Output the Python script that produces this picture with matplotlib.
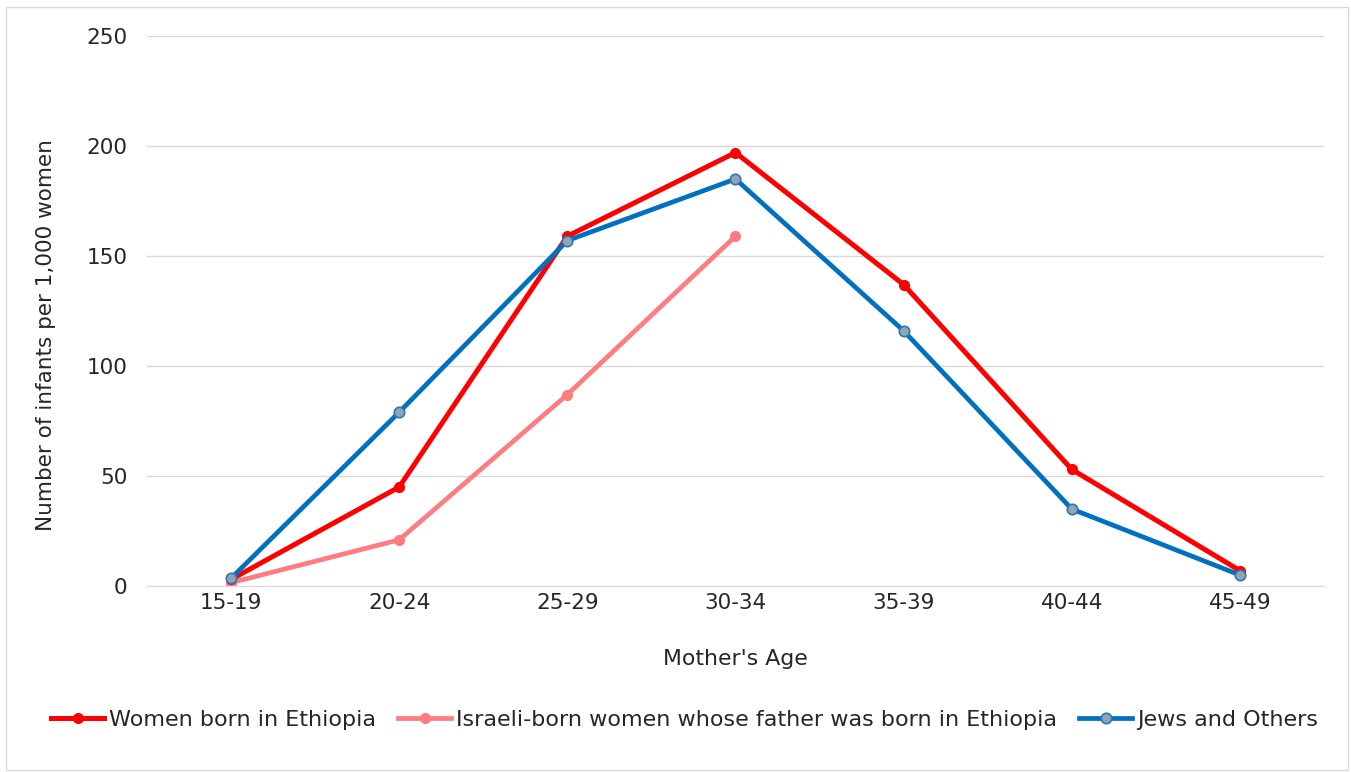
import matplotlib.pyplot as plt
from matplotlib.patches import Rectangle
import numpy as np

ages = ["15-19", "20-24", "25-29", "30-34", "35-39", "40-44", "45-49"]
born_ethiopia = [3, 45, 159, 197, 137, 53, 7]
israeli_born = [1.5, 21, 87, 159]
jews_others = [3.5, 79, 157, 185, 116, 35, 5]

plt.rcParams['font.family'] = ['DejaVu Sans']

fig = plt.figure(figsize=(13.51, 7.72), dpi=100)
ax = fig.add_axes([0.1088, 0.2409, 0.8712, 0.7125])

x = np.arange(len(ages))
ax.plot(x, born_ethiopia, color='#FF0000', lw=3.6, marker='o', ms=7,
        mfc='#FF0000', mec='#FF0000', label='Women born in Ethiopia', zorder=3)
ax.plot(x[:len(israeli_born)], israeli_born, color='#FF7C80', lw=3.4, marker='o', ms=7,
        mfc='#FF7C80', mec='#FF7C80',
        label='Israeli-born women whose father was born in Ethiopia', zorder=2)
ax.plot(x, jews_others, color='#0070C0', lw=3.4, marker='o', ms=7.5,
        mfc='#8FA4B5', mec='#2E75B6', mew=1.2, label='Jews and Others', zorder=4)

ax.set_xlim(-0.5, len(ages) - 0.5)
ax.set_ylim(0, 250)
ax.set_yticks(range(0, 251, 50))
ax.set_xticks(x)
ax.set_xticklabels(ages)
ax.grid(axis='y', color='#D9D9D9', lw=1)
ax.set_axisbelow(True)
for s in ['top', 'right', 'left']:
    ax.spines[s].set_visible(False)
ax.spines['bottom'].set_color('#D9D9D9')
ax.tick_params(axis='both', length=0, labelsize=15.5, pad=5)
ax.tick_params(axis='y', pad=14)
for lbl in ax.get_xticklabels() + ax.get_yticklabels():
    lbl.set_color('#262626')

ax.set_xlabel("Mother's Age", fontsize=15.8, color='#262626', labelpad=26)
ax.set_ylabel("Number of infants per 1,000 women", fontsize=15.5, color='#262626')
ax.yaxis.set_label_coords(-0.077, 0.456)

leg = fig.legend(loc='center', bbox_to_anchor=(0.5067, 0.068), ncol=3, frameon=False,
                 fontsize=16, handlelength=2.4, handletextpad=0.2, columnspacing=1.0,
                 labelcolor='#262626')

fig.patches.append(Rectangle((6 / 1351, 2 / 772), 1342 / 1351, 763 / 772,
                             transform=fig.transFigure, fill=False,
                             edgecolor='#D9D9D9', lw=1))

fig.savefig('out.png', dpi=100)
